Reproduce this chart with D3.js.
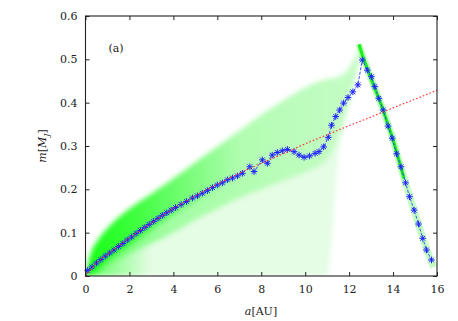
<!DOCTYPE html>
<html>
<head>
<meta charset="utf-8">
<script src="https://cdn.jsdelivr.net/npm/d3@7"></script>
<style>
    body { margin: 0; background: #fff; }
    svg text { font-family: "DejaVu Serif", serif; font-size: 11px; fill: #222; }
</style>
</head>
<body>
<svg id="chart" width="458" height="321"></svg>
<script>
    // blue series (asterisks joined by a line)
    var blueA = [0.1,0.3,0.5,0.7,0.9,1.1,1.3,1.5,1.7,1.9,2.1,2.3,2.5,2.7,2.9,3.1,3.3,3.5,3.7,3.9,4.1,4.35,4.6,4.87,5.1,5.32,5.55,5.78,6.0,6.23,6.46,6.69,6.92,7.14,7.48,7.67,8.05,8.28,8.5,8.73,8.96,9.19,9.49,9.72,9.95,10.2,10.45,10.63,10.84,11.05,11.2,11.39,11.57,11.75,11.95,12.17,12.4,12.6,12.83,13.02,13.17,13.35,13.55,13.77,13.96,14.16,14.36,14.57,14.75,14.96,15.16,15.35,15.52,15.75];
    var blueM = [0.013,0.021,0.030,0.038,0.046,0.053,0.060,0.068,0.075,0.083,0.090,0.098,0.105,0.112,0.119,0.126,0.133,0.140,0.146,0.152,0.158,0.165,0.172,0.180,0.185,0.191,0.197,0.204,0.210,0.215,0.222,0.226,0.231,0.237,0.252,0.241,0.268,0.260,0.279,0.285,0.289,0.292,0.287,0.279,0.274,0.277,0.283,0.287,0.298,0.320,0.348,0.368,0.383,0.399,0.412,0.425,0.441,0.4985,0.475,0.460,0.437,0.410,0.383,0.346,0.318,0.282,0.252,0.215,0.183,0.152,0.120,0.087,0.060,0.037];

    // red dotted fit
    var redA = [0,0.5,1,2,3,4,5,6,7,8,9,10,11,12,13,14,15,16];
    var redM = [0,0.030,0.050,0.088,0.122,0.156,0.185,0.212,0.237,0.260,0.282,0.305,0.326,0.347,0.367,0.388,0.408,0.429];

    // green cloud outline (outer edge, band around the track)
    var cloudA   = [0,0.2,0.6,1,2,3,4,5,6,7,8,9,10,11,11.5,12,12.5];
    var cloudTop = [0,0.045,0.085,0.11,0.155,0.19,0.225,0.262,0.298,0.335,0.372,0.405,0.435,0.455,0.46,0.48,0.53];
    var cloudBot = [0,0,0,0,0,0,0,0,0,0,0,0,0,0,0.27,0.40,0.50];
    var bandBot  = [0,0,0.005,0.02,0.05,0.075,0.1,0.13,0.155,0.18,0.2,0.22,0.24,0.27,0.32,0.40,0.50];
    var denseBot = [0,0,0.015,0.035,0.07,0.105,0.14,0.17,0.2,0.23,0.26,0.29,0.32,0.35,0.38,0.42,0.50];

    // green strip along the falling branch
    var stripA = [12.45,12.6,13.0,13.5,14.0,14.5,15.0,15.5,15.85];
    var stripM = [0.535,0.51,0.455,0.39,0.315,0.225,0.145,0.065,0.02];

    var xTicks = [0,2,4,6,8,10,12,14,16];
    var yTicks = [0,0.1,0.2,0.3,0.4,0.5,0.6];
    var yTickLabels = ["0","0.1","0.2","0.3","0.4","0.5","0.6"];

    var svg = d3.select("#chart");
    var pLeft = 85.5, pRight = 437, pTop = 16, pBottom = 276;

    var x = d3.scaleLinear().domain([0,16]).range([pLeft,pRight]);
    var y = d3.scaleLinear().domain([0,0.6]).range([pBottom,pTop]);

    var defs = svg.append("defs");
    defs.append("clipPath").attr("id","plotClip")
        .append("rect").attr("x",pLeft).attr("y",pTop).attr("width",pRight-pLeft).attr("height",pBottom-pTop);
    defs.append("filter").attr("id","soft").attr("x","-10%").attr("y","-10%").attr("width","120%").attr("height","120%")
        .append("feGaussianBlur").attr("stdDeviation",2.5);

    function gradient(id, x0, x1, stops) {
        var g = defs.append("linearGradient").attr("id",id)
            .attr("gradientUnits","userSpaceOnUse")
            .attr("x1",x(x0)).attr("x2",x(x1)).attr("y1",0).attr("y2",0);
        stops.forEach(function(s){
            g.append("stop").attr("offset",s[0]).attr("stop-color","#00ff00").attr("stop-opacity",s[1]);
        });
    }
    gradient("bandX", 0, 12, [[0,0.6],[0.3,0.3],[0.7,0.2],[1,0.14]]);
    gradient("denseX", 0, 7, [[0,0.75],[0.45,0.45],[1,0]]);
    gradient("originX", 0, 3, [[0,0.6],[1,0]]);

    var cloud = svg.append("g").attr("clip-path","url(#plotClip)");
    var cloudG = cloud.append("g").attr("filter","url(#soft)");
    var idx = d3.range(cloudA.length);

    var area = function(lo, hi) {
        return d3.area()
            .x(function(i){ return x(cloudA[i]); })
            .y0(function(i){ return y(lo[i]); })
            .y1(function(i){ return y(hi[i]); })
            .curve(d3.curveMonotoneX);
    };

    cloudG.append("path").attr("d", area(cloudBot, cloudTop)(idx))
        .attr("fill","#00e600").attr("fill-opacity",0.1);
    cloudG.append("path").attr("d", area(bandBot, cloudTop)(idx))
        .attr("fill","url(#bandX)");
    cloudG.append("path").attr("d", area(denseBot, cloudTop)(idx.filter(function(i){ return cloudA[i] <= 8; })))
        .attr("fill","url(#denseX)");
    cloudG.append("path").attr("d", area(cloudBot, bandBot)(idx.filter(function(i){ return cloudA[i] <= 4; })))
        .attr("fill","url(#originX)");

    var stripLine = d3.line()
        .x(function(i){ return x(stripA[i]); })
        .y(function(i){ return y(stripM[i]); });
    var sIdx = d3.range(stripA.length);
    cloud.append("path").attr("d", stripLine(sIdx))
        .attr("fill","none").attr("stroke","#55ff55").attr("stroke-opacity",0.35).attr("stroke-width",7);
    cloud.append("path").attr("d", stripLine(sIdx.filter(function(i){ return stripA[i] <= 14.5; })))
        .attr("fill","none").attr("stroke","#00ee00").attr("stroke-opacity",0.85).attr("stroke-width",3.2);

    // blue line and asterisks
    var bIdx = d3.range(blueA.length);
    var blueLine = d3.line()
        .x(function(i){ return x(blueA[i]); })
        .y(function(i){ return y(blueM[i]); });
    svg.append("path").attr("d", blueLine(bIdx))
        .attr("fill","none").attr("stroke","#3333ff").attr("stroke-width",0.9)
        .attr("stroke-dasharray","3,1.5");

    var r = 3.3, d = r*0.72;
    var star = "M"+(-r)+",0H"+r+"M0,"+(-r)+"V"+r+"M"+(-d)+","+(-d)+"L"+d+","+d+"M"+(-d)+","+d+"L"+d+","+(-d);
    svg.append("g").selectAll("path").data(bIdx).enter().append("path")
        .attr("transform", function(i){ return "translate("+x(blueA[i])+","+y(blueM[i])+")"; })
        .attr("d", star)
        .attr("fill","none").attr("stroke","#2222ff").attr("stroke-width",1);

    // red dotted
    var rIdx = d3.range(redA.length);
    svg.append("path")
        .attr("d", d3.line().x(function(i){ return x(redA[i]); }).y(function(i){ return y(redM[i]); }).curve(d3.curveMonotoneX)(rIdx))
        .attr("fill","none").attr("stroke","#ff2a2a").attr("stroke-width",1.1)
        .attr("stroke-dasharray","1.6,2");

    // frame and ticks
    svg.append("rect").attr("x",pLeft).attr("y",pTop).attr("width",pRight-pLeft).attr("height",pBottom-pTop)
        .attr("fill","none").attr("stroke","#222").attr("stroke-width",1.1);

    var bx = svg.append("g").attr("transform","translate(0,"+pBottom+")")
        .call(d3.axisBottom(x).tickValues(xTicks).tickSize(-4).tickPadding(9).tickFormat(d3.format("d")));
    var tx = svg.append("g").attr("transform","translate(0,"+pTop+")")
        .call(d3.axisTop(x).tickValues(xTicks).tickSize(-4).tickFormat(""));
    var ly = svg.append("g").attr("transform","translate("+pLeft+",0)")
        .call(d3.axisLeft(y).tickValues(yTicks).tickSize(-4).tickPadding(8)
            .tickFormat(function(v, i){ return yTickLabels[i]; }));
    var ry = svg.append("g").attr("transform","translate("+pRight+",0)")
        .call(d3.axisRight(y).tickValues(yTicks).tickSize(-4).tickFormat(""));
    [bx, tx, ly, ry].forEach(function(g){
        g.select(".domain").remove();
        g.selectAll("line").attr("stroke","#222");
        g.selectAll("text").attr("font-family",null).attr("font-size",null).attr("fill","#222");
    });

    // labels
    var xl = svg.append("text").attr("x",261).attr("y",315).attr("text-anchor","middle");
    xl.append("tspan").attr("font-style","italic").text("a");
    xl.append("tspan").text("[AU]");

    var yl = svg.append("text").attr("transform","translate(46,146) rotate(-90)").attr("text-anchor","middle");
    yl.append("tspan").attr("font-style","italic").text("m");
    yl.append("tspan").text("[");
    yl.append("tspan").attr("font-style","italic").text("M");
    yl.append("tspan").attr("font-style","italic").attr("font-size","8px").attr("dy",3).text("J");
    yl.append("tspan").attr("dy",-3).text("]");

    svg.append("text").attr("x",116).attr("y",52).attr("text-anchor","middle").text("(a)");
</script>
</body>
</html>
